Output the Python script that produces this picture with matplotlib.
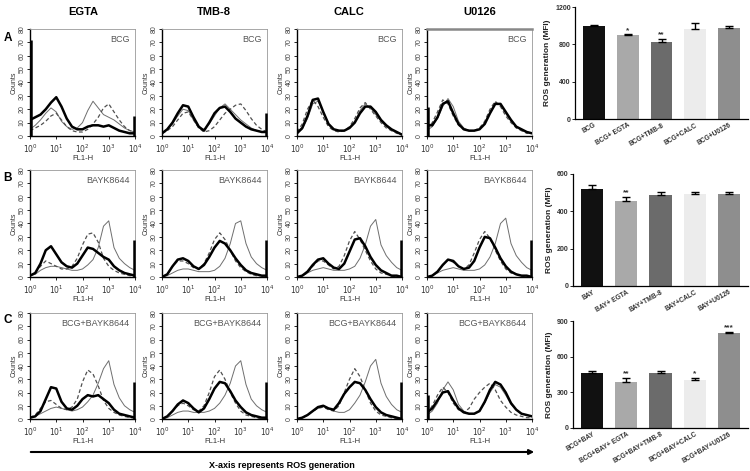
import matplotlib
matplotlib.use('Agg')
import matplotlib.pyplot as plt
import numpy as np
from matplotlib.ticker import LogLocator, NullFormatter, FixedLocator, FixedFormatter

plt.rcParams['font.family'] = ['Liberation Sans', 'DejaVu Sans']

# ---------------- data ----------------
log_fl1 = [0.0, 0.2, 0.4, 0.6, 0.8, 1.0, 1.2, 1.4, 1.6, 1.8, 2.0,
           2.2, 2.4, 2.6, 2.8, 3.0, 3.2, 3.4, 3.6, 3.8, 4.0]

columns = ['EGTA', 'TMB-8', 'CALC', 'U0126']
row_letters = ['A', 'B', 'C']
row_tags = ['BCG', 'BAYK8644', 'BCG+BAYK8644']

# Row A (BCG)
a_egta_thick = [12, 14, 16, 20, 25, 29, 22, 13, 7, 5, 5, 7, 8, 8, 7, 8, 6, 4, 3, 2, 2]
a_egta_thin = [5, 8, 12, 17, 21, 18, 11, 7, 5, 6, 10, 19, 26, 21, 16, 14, 12, 9, 6, 4, 3]
a_egta_dash = [4, 6, 8, 11, 15, 17, 12, 7, 4, 3, 3, 5, 9, 14, 21, 24, 18, 12, 7, 4, 3]

a_tmb_thick = [2, 5, 10, 17, 23, 22, 14, 7, 4, 10, 17, 21, 22, 18, 13, 10, 7, 5, 4, 3, 3]
a_tmb_thin = [2, 5, 9, 15, 20, 19, 12, 6, 5, 9, 15, 21, 24, 20, 16, 12, 9, 6, 4, 3, 3]
a_tmb_dash = [2, 4, 7, 12, 17, 18, 12, 6, 3, 4, 7, 12, 17, 20, 23, 24, 19, 13, 8, 5, 3]

a_calc_thick = [2, 6, 15, 27, 28, 18, 9, 5, 4, 4, 6, 10, 17, 22, 22, 18, 12, 8, 5, 3, 1]
a_calc_thin = [2, 5, 13, 24, 26, 18, 9, 5, 4, 4, 6, 11, 19, 24, 21, 16, 11, 7, 4, 3, 1]
a_calc_dash = [3, 9, 20, 27, 22, 14, 7, 4, 3, 4, 7, 13, 21, 25, 20, 15, 10, 6, 4, 2, 1]

a_u0126_thick = [8, 8, 14, 24, 26, 17, 9, 5, 4, 4, 5, 9, 17, 24, 24, 18, 12, 7, 5, 3, 2]
a_u0126_thin = [4, 7, 13, 22, 28, 22, 11, 6, 4, 4, 5, 10, 18, 25, 23, 17, 11, 7, 4, 3, 2]
a_u0126_dash = [5, 10, 18, 27, 24, 15, 8, 5, 4, 4, 6, 11, 20, 26, 22, 15, 10, 6, 4, 2, 2]

# Row B (BAYK8644)
b_egta_thick = [1, 3, 10, 20, 23, 17, 11, 8, 7, 10, 16, 22, 21, 18, 15, 13, 8, 5, 3, 2, 1]
b_egta_thin = [1, 2, 5, 7, 8, 8, 7, 6, 5, 5, 6, 9, 13, 22, 38, 42, 22, 14, 10, 7, 5]
b_egta_dash = [1, 3, 8, 12, 10, 8, 6, 6, 8, 14, 24, 32, 33, 26, 14, 8, 5, 3, 2, 1, 1]

b_tmb_thick = [0, 2, 8, 13, 14, 12, 8, 6, 9, 15, 22, 27, 25, 20, 14, 9, 5, 3, 2, 1, 1]
b_tmb_thin = [0, 1, 3, 5, 6, 6, 5, 4, 4, 4, 5, 8, 14, 25, 40, 42, 25, 15, 10, 7, 5]
b_tmb_dash = [0, 2, 8, 12, 12, 10, 7, 6, 10, 18, 28, 33, 28, 20, 12, 7, 4, 2, 1, 1, 0]

b_calc_thick = [0, 1, 4, 9, 13, 14, 10, 7, 6, 10, 19, 28, 29, 23, 15, 9, 5, 3, 1, 1, 0]
b_calc_thin = [0, 1, 3, 5, 6, 7, 6, 5, 5, 5, 6, 8, 14, 24, 38, 43, 24, 16, 11, 7, 5]
b_calc_dash = [0, 1, 3, 8, 12, 12, 9, 6, 8, 16, 27, 34, 28, 20, 12, 6, 3, 2, 1, 0, 0]

b_u0126_thick = [0, 1, 4, 9, 13, 12, 8, 6, 7, 12, 22, 30, 29, 22, 14, 8, 4, 2, 1, 1, 0]
b_u0126_thin = [0, 1, 3, 5, 6, 7, 6, 5, 5, 5, 6, 9, 15, 25, 40, 44, 25, 16, 11, 7, 5]
b_u0126_dash = [0, 1, 4, 9, 13, 11, 8, 6, 9, 18, 28, 34, 29, 20, 12, 6, 3, 2, 1, 0, 0]

# Row C (BCG+BAYK8644)
c_egta_thick = [1, 2, 6, 15, 24, 23, 13, 8, 7, 10, 15, 18, 17, 18, 15, 12, 7, 4, 3, 2, 1]
c_egta_thin = [1, 2, 4, 6, 8, 9, 8, 7, 6, 7, 9, 13, 18, 27, 38, 44, 26, 16, 10, 7, 5]
c_egta_dash = [1, 3, 8, 13, 14, 11, 8, 7, 9, 15, 28, 37, 34, 25, 14, 8, 5, 3, 2, 1, 1]

c_tmb_thick = [0, 2, 6, 11, 14, 12, 8, 5, 8, 15, 23, 28, 27, 21, 14, 9, 5, 3, 2, 1, 1]
c_tmb_thin = [0, 1, 3, 5, 6, 6, 5, 5, 5, 6, 8, 12, 18, 27, 40, 44, 26, 15, 10, 7, 5]
c_tmb_dash = [0, 2, 6, 10, 12, 10, 7, 6, 10, 20, 32, 37, 30, 20, 12, 6, 3, 2, 1, 0, 0]

c_calc_thick = [0, 1, 3, 6, 9, 10, 8, 7, 12, 19, 24, 28, 27, 22, 15, 9, 5, 3, 2, 1, 0]
c_calc_thin = [0, 1, 3, 6, 8, 10, 8, 6, 5, 5, 7, 12, 18, 28, 40, 45, 27, 17, 11, 7, 5]
c_calc_dash = [0, 1, 3, 6, 8, 9, 7, 6, 10, 20, 30, 38, 32, 22, 12, 6, 3, 2, 1, 0, 0]

c_u0126_thick = [5, 8, 14, 20, 21, 14, 8, 5, 4, 4, 6, 13, 22, 28, 26, 20, 12, 7, 4, 3, 2]
c_u0126_thin = [3, 6, 12, 22, 28, 22, 11, 6, 4, 4, 6, 12, 20, 26, 24, 18, 11, 7, 4, 3, 2]
c_u0126_dash = [4, 10, 18, 24, 20, 12, 7, 5, 8, 15, 20, 24, 27, 22, 14, 9, 5, 3, 2, 1, 1]

# edge channel spikes (counts piled at 10^0 and 10^4)
left_spike_a = [72, 0, 0, 22]
left_spike_b = [0, 0, 0, 0]
left_spike_c = [0, 0, 0, 18]
right_spike_a = [15, 17, 0, 0]
right_spike_b = [28, 28, 28, 28]
right_spike_c = [28, 28, 28, 0]

# bar charts
bar_labels_a = ['BCG', 'BCG+ EGTA', 'BCG+TMB-8', 'BCG+CALC', 'BCG+U0126']
bar_values_a = [1000, 895, 825, 960, 975]
bar_err_a = [12, 12, 32, 70, 25]
bar_stars_a = ['', '*', '**', '', '']

bar_labels_b = ['BAY', 'BAY+ EGTA', 'BAY+TMB-8', 'BAY+CALC', 'BAY+U0126']
bar_values_b = [518, 458, 488, 492, 495]
bar_err_b = [22, 18, 14, 14, 8]
bar_stars_b = ['', '**', '', '', '']

bar_labels_c = ['BCG+BAY', 'BCG+BAY+ EGTA', 'BCG+BAY+TMB-8', 'BCG+BAY+CALC', 'BCG+BAY+U0126']
bar_values_c = [462, 385, 462, 405, 795]
bar_err_c = [15, 35, 15, 15, 15]
bar_stars_c = ['', '**', '', '*', '***']

bar_colors = ['#111111', '#a9a9a9', '#6b6b6b', '#ececec', '#8e8e8e']

# ---------------- layout ----------------
W, H = 750, 471
fig = plt.figure(figsize=(W / 100, H / 100), dpi=100)
fig.patch.set_facecolor('white')


def px_axes(l, t, r, b):
    return fig.add_axes([l / W, 1 - b / H, (r - l) / W, (b - t) / H])


hist_rows = [
    [(a_egta_thick, a_egta_thin, a_egta_dash), (a_tmb_thick, a_tmb_thin, a_tmb_dash),
     (a_calc_thick, a_calc_thin, a_calc_dash), (a_u0126_thick, a_u0126_thin, a_u0126_dash)],
    [(b_egta_thick, b_egta_thin, b_egta_dash), (b_tmb_thick, b_tmb_thin, b_tmb_dash),
     (b_calc_thick, b_calc_thin, b_calc_dash), (b_u0126_thick, b_u0126_thin, b_u0126_dash)],
    [(c_egta_thick, c_egta_thin, c_egta_dash), (c_tmb_thick, c_tmb_thin, c_tmb_dash),
     (c_calc_thick, c_calc_thin, c_calc_dash), (c_u0126_thick, c_u0126_thin, c_u0126_dash)],
]
left_spikes = [left_spike_a, left_spike_b, left_spike_c]
right_spikes = [right_spike_a, right_spike_b, right_spike_c]

col_lefts = [30, 162, 297, 427]
col_width = 105
row_tb = [(29, 136), (170, 277), (313, 419)]

x_vals = 10 ** np.array(log_fl1)

for r in range(3):
    t, b = row_tb[r]
    for c in range(4):
        l = col_lefts[c]
        ax = px_axes(l, t, l + col_width, b)
        thick, thin, dash = hist_rows[r][c]
        ax.plot(x_vals, thin, color='#6e6e6e', lw=0.7, zorder=2)
        ax.plot(x_vals, dash, color='#505050', lw=0.9, ls=(0, (3, 2)), zorder=2)
        ax.plot(x_vals, thick, color='black', lw=1.8, zorder=3)
        if left_spikes[r][c]:
            ax.vlines(1.05, 0, left_spikes[r][c], color='black', lw=1.8, zorder=4, clip_on=False)
        if right_spikes[r][c]:
            ax.vlines(1e4 / 1.05, 0, right_spikes[r][c], color='black', lw=1.8, zorder=4,
                      clip_on=False)
        ax.set_xscale('log')
        ax.set_xlim(1, 1e4)
        ax.set_ylim(0, 80)
        ax.xaxis.set_major_locator(FixedLocator([1, 10, 100, 1000, 10000]))
        ax.xaxis.set_major_formatter(FixedFormatter(['$10^0$', '$10^1$', '$10^2$', '$10^3$', '$10^4$']))
        ax.xaxis.set_minor_locator(LogLocator(base=10, subs=np.arange(2, 10)))
        ax.xaxis.set_minor_formatter(NullFormatter())
        ax.set_yticks(range(0, 81, 10))
        ax.tick_params(axis='x', which='major', labelsize=5.5, length=2.5, width=0.6, pad=2,
                       labelcolor='#333333')
        ax.tick_params(axis='x', which='minor', length=1.3, width=0.5)
        ax.tick_params(axis='y', labelsize=5, length=2, width=0.6, pad=1, labelrotation=90,
                       labelcolor='#444444')
        for lab in ax.get_yticklabels():
            lab.set_verticalalignment('center')
        ax.set_ylabel('Counts', fontsize=5, labelpad=1, color='#333333')
        ax.set_xlabel('FL1-H', fontsize=5.5, labelpad=0.5, color='#333333')
        for sp in ['left', 'bottom']:
            ax.spines[sp].set_color('black')
            ax.spines[sp].set_linewidth(1.0)
        for sp in ['top', 'right']:
            ax.spines[sp].set_color('#999999')
            ax.spines[sp].set_linewidth(0.6)
        if r == 0 and c == 3:
            ax.spines['top'].set_linewidth(1.8)
            ax.spines['top'].set_color('#888888')
        ax.text(0.95, 0.9, row_tags[r], transform=ax.transAxes, ha='right', va='center',
                fontsize=6.5, color='#555555')

# column titles
title_x = [83, 214, 349, 480]
for c in range(4):
    fig.text(title_x[c] / W, 1 - 12 / H, columns[c], ha='center', va='center',
             fontsize=8, fontweight='bold')

# row letters
row_letter_y = [38, 178, 320]
for r in range(3):
    fig.text(8 / W, 1 - row_letter_y[r] / H, row_letters[r], ha='center', va='center',
             fontsize=8.5, fontweight='bold')

# bottom arrow
fig.add_artist(matplotlib.patches.FancyArrowPatch(
    (28 / W, 1 - 452 / H), (537 / W, 1 - 452 / H), transform=fig.transFigure,
    arrowstyle='-|>', mutation_scale=7, lw=1.5, color='black'))
fig.text(282 / W, 1 - 465 / H, 'X-axis represents ROS generation', ha='center', va='center',
         fontsize=6.5, fontweight='bold')

# bar charts
bar_sets = [
    (bar_labels_a, bar_values_a, bar_err_a, bar_stars_a, (575, 7, 748, 119), [0, 400, 800, 1200]),
    (bar_labels_b, bar_values_b, bar_err_b, bar_stars_b, (573, 174, 748, 286), [0, 200, 400, 600]),
    (bar_labels_c, bar_values_c, bar_err_c, bar_stars_c, (573, 321, 748, 428), [0, 300, 600, 900]),
]
for labels, vals, errs, stars, (l, t, rr, b), yt in bar_sets:
    ax = px_axes(l, t, rr, b)
    pos = np.arange(len(vals))
    ax.bar(pos, vals, width=0.65, color=bar_colors, edgecolor='none', zorder=2)
    ax.errorbar(pos, vals, yerr=[[0] * len(errs), errs], fmt='none', ecolor='black',
                elinewidth=1.0, capsize=3, capthick=1.0, zorder=3)
    for p, v, e, s in zip(pos, vals, errs, stars):
        if s:
            ax.text(p, v + e + yt[-1] * 0.005, s, ha='center', va='bottom', fontsize=6,
                    fontweight='bold', color='#333333')
    ax.set_xlim(-0.56, len(vals) - 0.44)
    ax.set_ylim(0, yt[-1])
    ax.set_yticks(yt)
    ax.set_xticks(pos)
    ax.set_xticklabels(labels, rotation=30, ha='right', rotation_mode='anchor',
                       fontsize=4.8, fontweight='bold', color='#333333')
    ax.tick_params(axis='y', labelsize=5, length=2, width=0.6, pad=1, labelcolor='#333333')
    ax.tick_params(axis='x', length=0, pad=2)
    for lab in ax.get_yticklabels():
        lab.set_fontweight('bold')
    for sp in ['top', 'right']:
        ax.spines[sp].set_visible(False)
    for sp in ['left', 'bottom']:
        ax.spines[sp].set_linewidth(0.9)
    ax.set_ylabel('ROS generation (MFI)', fontsize=6, fontweight='bold', labelpad=3,
                  color='#222222')

fig.savefig('out.png', dpi=100, facecolor='white')
